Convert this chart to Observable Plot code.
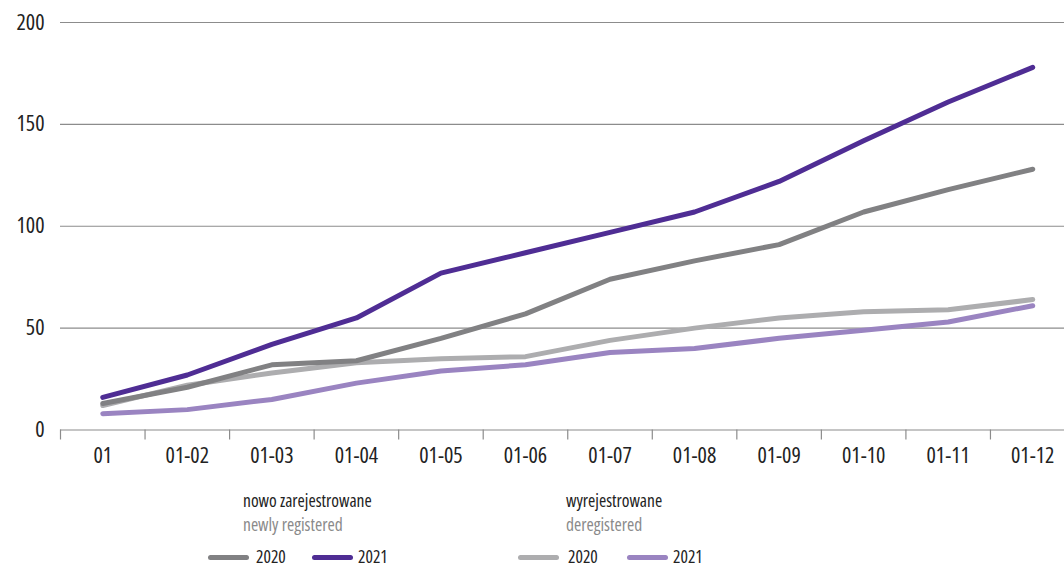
<!DOCTYPE html>
<html>
<head>
<meta charset="utf-8">
<script src="https://cdn.jsdelivr.net/npm/d3@7"></script>
<script src="https://cdn.jsdelivr.net/npm/@observablehq/plot@0.6"></script>
<style>
  html, body { margin: 0; padding: 0; background: #fff; }
  #wrap { position: relative; width: 1064px; height: 568px; overflow: hidden;
          font-family: "Open Sans", "Roboto Condensed", Roboto, sans-serif; font-stretch: condensed; color: #222; }
  #chart { position: absolute; left: 0; top: 0; }
  #chart svg text { font-stretch: condensed; }
  .lg { position: absolute; white-space: nowrap; line-height: 1; font-stretch: condensed; }
  .hd { font-size: 17.5px; color: #222; }
  .sub { font-size: 17.5px; color: #8a8a8a; }
  .yr { font-size: 17.5px; color: #222; }
  .sw { position: absolute; height: 5px; border-radius: 3px; }
</style>
</head>
<body>
<div id="wrap">
  <div id="chart"></div>
  <div id="legend"></div>
</div>
<script>
// ---- data ----
const labels = ["01", "01-02", "01-03", "01-04", "01-05", "01-06", "01-07", "01-08", "01-09", "01-10", "01-11", "01-12"];
const newly2020 = [13, 21, 32, 34, 45, 57, 74, 83, 91, 107, 118, 128];
const newly2021 = [16, 27, 42, 55, 77, 87, 97, 107, 122, 142, 161, 178];
const dereg2020 = [12, 22, 28, 33, 35, 36, 44, 50, 55, 58, 59, 64];
const dereg2021 = [8, 10, 15, 23, 29, 32, 38, 40, 45, 49, 53, 61];
const yTicks = [0, 50, 100, 150, 200];

const seriesDefs = [
  { key: "dereg2020", values: dereg2020, color: "#adadaf", year: "2020" },
  { key: "dereg2021", values: dereg2021, color: "#9a84c1", year: "2021" },
  { key: "newly2020", values: newly2020, color: "#818183", year: "2020" },
  { key: "newly2021", values: newly2021, color: "#4f2d94", year: "2021" }
];

const rows = seriesDefs.flatMap(s => s.values.map((v, i) => ({ series: s.key, i: i + 0.5, label: labels[i], value: v })));

const chart = Plot.plot({
  width: 1064,
  height: 475,
  marginLeft: 60,
  marginRight: -10.5,
  marginTop: 22,
  marginBottom: 45.5,
  style: { fontFamily: "'Open Sans', 'Roboto Condensed', Roboto, sans-serif", fontSize: "22px", color: "#222", background: "#fff" },
  x: { domain: [0, labels.length] },
  y: { domain: [0, 200] },
  marks: [
    Plot.gridY(yTicks, { stroke: "#8c8c8c", strokeOpacity: 1, strokeWidth: 1.2 }),
    Plot.axisY(yTicks, { tickSize: 0, tickPadding: 16, fontSize: 22, fill: "#222", label: null }),
    Plot.axisX(d3.range(0, labels.length), { tickSize: 10, tickFormat: () => "", stroke: "#8c8c8c", strokeWidth: 1.2, label: null }),
    Plot.axisX(labels.map((_, i) => i + 0.5), { tickSize: 0, tickPadding: 17, fontSize: 22, fill: "#222", tickFormat: d => labels[Math.floor(d)], label: null }),
    ...seriesDefs.map(s => Plot.line(rows.filter(r => r.series === s.key), {
      x: "i", y: "value", stroke: s.color, strokeWidth: 5, strokeLinecap: "round", strokeLinejoin: "round"
    }))
  ]
});
document.getElementById("chart").appendChild(chart);

// ---- legend ----
const legend = document.getElementById("legend");
const groups = [
  { title: "nowo zarejestrowane", sub: "newly registered", left: 243, sw: [208, 312], txt: [256, 358], keys: ["newly2020", "newly2021"] },
  { title: "wyrejestrowane", sub: "deregistered", left: 566, sw: [518, 627], txt: [568, 673], keys: ["dereg2020", "dereg2021"] }
];
groups.forEach(g => {
  const h = document.createElement("div"); h.className = "lg hd"; h.textContent = g.title;
  h.style.left = g.left + "px"; h.style.top = "492px"; legend.appendChild(h);
  const s = document.createElement("div"); s.className = "lg sub"; s.textContent = g.sub;
  s.style.left = g.left + "px"; s.style.top = "516px"; legend.appendChild(s);
  g.keys.forEach((k, j) => {
    const def = seriesDefs.find(d => d.key === k);
    const sw = document.createElement("div"); sw.className = "sw";
    sw.style.left = g.sw[j] + "px"; sw.style.top = "555px"; sw.style.width = "41px"; sw.style.background = def.color;
    legend.appendChild(sw);
    const t = document.createElement("div"); t.className = "lg yr"; t.textContent = def.year;
    t.style.left = g.txt[j] + "px"; t.style.top = "548px"; legend.appendChild(t);
  });
});
</script>
</body>
</html>
